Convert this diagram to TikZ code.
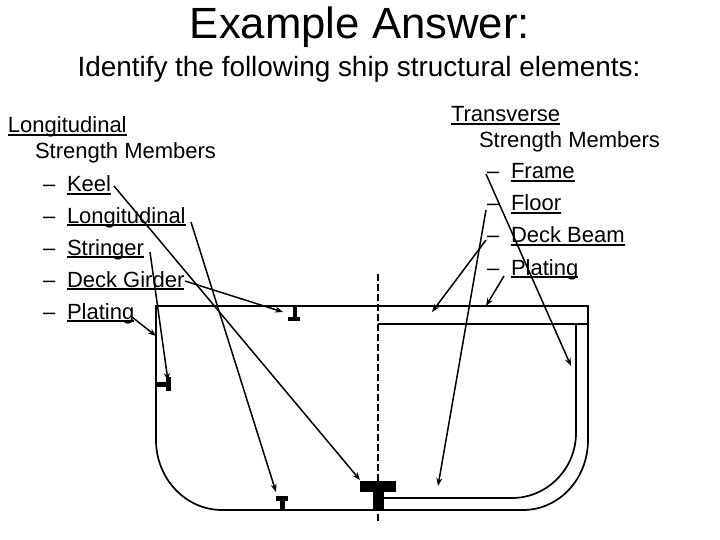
\documentclass[tikz,border=0pt]{standalone}
\usepackage{fontspec}
\setmainfont{Liberation Sans}
\usetikzlibrary{arrows.meta}
\newsavebox{\ulbox}
\newlength{\ulwd}
\newcommand{\myul}[1]{\sbox{\ulbox}{#1}\setlength{\ulwd}{\wd\ulbox}\rlap{\rule[-2.6pt]{\ulwd}{1.4pt}}\usebox{\ulbox}}
\tikzset{
  body/.style={anchor=base west,inner sep=0pt,outer sep=0pt,font=\fontsize{22}{26}\selectfont},
  head/.style={anchor=base,inner sep=0pt,outer sep=0pt},
  hull/.style={line width=1.7pt,line join=miter},
  steel/.style={fill=black,draw=none},
  pointer/.style={line width=1.5pt,-{Stealth[length=8pt,width=6pt]},shorten >=0pt},
  centre/.style={line width=1.5pt,dash pattern=on 7pt off 3pt}
}
\begin{document}
\begin{tikzpicture}[x=1pt,y=-1pt]
\useasboundingbox (0,0) rectangle (720,540);
\fill[white] (0,0) rectangle (720,540);
% titles
\node[head,font=\fontsize{43.7}{50}\selectfont] (title) at (360,39) {Example Answer:};
\node[head,font=\fontsize{27.9}{32}\selectfont] (sub) at (359,77) {Identify the following ship structural elements:};
% ship
\draw[hull] (222,510) .. controls (186,510) and (156,479) .. (156,440) -- (156,306) -- (588,306) -- (588,440) .. controls (588,479) and (559,510) .. (523,510) -- cycle;
\draw[hull] (378,324) -- (588,324);
\draw[hull] (576,324) -- (576,433) .. controls (576,469) and (547,498) .. (512,498) -- (380,498);
\draw[centre] (378,274) -- (378,523);
\fill[steel] (360,481) rectangle (396,492);
\fill[steel] (373,492) rectangle (384,511);
\fill[steel] (276,496) rectangle (288,501);
\fill[steel] (280,501) rectangle (285,510);
\fill[steel] (293,306) rectangle (297,318);
\fill[steel] (288,317) rectangle (300,321);
\fill[steel] (156,382) rectangle (167,387);
\fill[steel] (166,377) rectangle (171,391);
% left text
\node[body] (l0) at (8,133) {\myul{Longitudinal}};
\node[body] (l1) at (35,159) {Strength Members};
\node[body] (d1) at (43,192) {–};
\node[body] (k) at (67,192) {\myul{Keel}};
\node[body] (d2) at (43,223) {–};
\node[body] (lo) at (67,223) {\myul{Longitudinal}};
\node[body] (d3) at (43,255) {–};
\node[body] (st) at (67,255) {\myul{Stringer}};
\node[body] (d4) at (43,287) {–};
\node[body] (dg) at (67,287) {\myul{Deck Girder}};
\node[body] (d5) at (43,319) {–};
\node[body] (pl) at (67,319) {\myul{Plating}};
% right text
\node[body] (r0) at (451,122) {\myul{Transverse}};
\node[body] (r1) at (479,148) {Strength Members};
\node[body] (e1) at (487,179) {–};
\node[body] (fr) at (511,179) {\myul{Frame}};
\node[body] (e2) at (487,211) {–};
\node[body] (fl) at (511,211) {\myul{Floor}};
\node[body] (e3) at (487,243) {–};
\node[body] (db) at (511,243) {\myul{Deck Beam}};
\node[body] (e4) at (487,275) {–};
\node[body] (pr) at (511,275) {\myul{Plating}};
% pointer ends
\coordinate (ka) at (114,186); \coordinate (kb) at (360,480);
\coordinate (la) at (191,222); \coordinate (lb) at (276,492);
\coordinate (sa) at (150,252); \coordinate (sb) at (168,381);
\coordinate (ga) at (185,281); \coordinate (gb) at (283,312);
\coordinate (pa) at (132,317); \coordinate (pb) at (156,336);
\coordinate (fa) at (486,174); \coordinate (fb) at (571,366);
\coordinate (oa) at (486,210); \coordinate (ob) at (438,486);
\coordinate (ba) at (486,240); \coordinate (bb) at (432,312);
\coordinate (ra) at (504,276); \coordinate (rb) at (486,306);
\draw[pointer] (ka) -- (kb);
\draw[pointer] (la) -- (lb);
\draw[pointer] (sa) -- (sb);
\draw[pointer] (ga) -- (gb);
\draw[pointer] (pa) -- (pb);
\draw[pointer] (fa) -- (fb);
\draw[pointer] (oa) -- (ob);
\draw[pointer] (ba) -- (bb);
\draw[pointer] (ra) -- (rb);
\end{tikzpicture}
\end{document}
